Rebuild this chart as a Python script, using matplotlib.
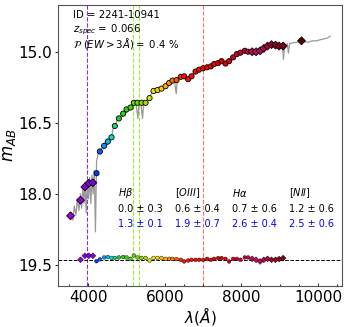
import matplotlib
matplotlib.use("Agg")
import matplotlib.pyplot as plt
from matplotlib.colors import LinearSegmentedColormap, Normalize
from matplotlib.ticker import MultipleLocator

# --- datos ---
# filtros marcados con rombo
diam_wl = [3540, 3800, 3914, 4018, 4123, 8282, 8386, 8491, 8587, 8684, 8789, 8893, 8987, 9092, 9572]
diam_mag = [18.46, 18.13, 17.85, 17.77, 17.76, 14.99, 14.99, 14.97, 14.92, 14.87, 14.84, 14.85, 14.87, 14.87, 14.76]
diam_res = [None, 0.0, -0.085, -0.085, -0.085, -0.02, 0.0, 0.035, 0.0, -0.02, 0.0, 0.0, -0.015, -0.035, None]

# filtros estrechos (circulos)
circ_wl = [4219, 4306, 4418, 4514, 4611, 4697, 4802, 4914, 5003, 5107, 5193, 5290, 5394, 5499,
           5603, 5708, 5812, 5916, 6021, 6115, 6204, 6308, 6420, 6507, 6611, 6700, 6804, 6898,
           7003, 7107, 7204, 7290, 7394, 7483, 7587, 7681, 7786, 7883, 7979, 8091, 8178]
circ_mag = [17.56, 17.10, 16.98, 16.89, 16.80, 16.56, 16.40, 16.30, 16.21, 16.17, 16.07, 16.07, 16.07, 16.07,
            15.97, 15.82, 15.80, 15.77, 15.72, 15.65, 15.60, 15.59, 15.52, 15.51, 15.57, 15.51, 15.41, 15.37,
            15.34, 15.32, 15.30, 15.25, 15.23, 15.19, 15.24, 15.19, 15.11, 15.04, 15.01, 14.97, 14.99]
circ_res = [0.03, -0.01, -0.05, -0.06, -0.04, -0.04, -0.05, -0.06, -0.05, -0.02, -0.09, -0.05, -0.04, -0.04,
            0.015, -0.04, -0.04, -0.04, -0.02, -0.02, -0.02, -0.015, 0.0, 0.035, 0.015, 0.0, 0.0, 0.0,
            0.0, -0.02, 0.0, -0.02, -0.035, -0.035, -0.02, 0.035, -0.02, -0.02, 0.0, -0.05, -0.05]

# espectro
spec_wl = [3560, 3600, 3640, 3680, 3720, 3760, 3800, 3830, 3860, 3890, 3920, 3950, 3980, 4010, 4040,
           4070, 4100, 4130, 4160, 4190, 4220, 4250, 4280, 4320, 4360, 4400, 4450, 4500, 4550, 4600,
           4650, 4700, 4750, 4800, 4850, 4900, 4950, 5000, 5050, 5100, 5150, 5200, 5250, 5300, 5330,
           5380, 5420, 5450, 5500, 5550, 5600, 5650, 5700, 5750, 5800, 5850, 5900, 5950, 6000, 6050,
           6100, 6150, 6200, 6250, 6300, 6330, 6400, 6500, 6600, 6700, 6800, 6900, 7000, 7100, 7200,
           7300, 7400, 7500, 7600, 7700, 7800, 7900, 8000, 8100, 8200, 8300, 8400, 8500, 8600, 8700,
           8800, 8900, 9000, 9080, 9100, 9130, 9200, 9230, 9260, 9350, 9450, 9550, 9650, 9750, 9850,
           9950, 10050, 10150, 10250, 10320]
spec_mag = [18.40, 18.55, 18.25, 18.45, 18.10, 18.35, 18.00, 18.30, 17.85, 18.20, 17.75, 18.40, 17.70, 18.10, 17.65,
            18.20, 17.60, 18.00, 17.50, 18.80, 17.30, 17.20, 17.05, 17.15, 17.00, 17.05, 16.90, 16.95, 16.80, 16.85,
            16.62, 16.58, 16.45, 16.42, 16.35, 16.35, 16.25, 16.28, 16.20, 16.22, 16.12, 16.12, 16.08, 16.40, 16.05,
            16.10, 16.40, 16.08, 16.05, 16.00, 15.95, 15.88, 15.82, 15.80, 15.80, 15.78, 15.76, 15.73, 15.70, 15.68,
            15.64, 15.62, 15.60, 15.58, 15.88, 15.56, 15.52, 15.50, 15.55, 15.50, 15.42, 15.38, 15.34, 15.32, 15.29,
            15.25, 15.22, 15.20, 15.23, 15.18, 15.10, 15.04, 15.00, 14.97, 14.99, 14.99, 14.98, 14.96, 14.91, 14.87,
            14.84, 14.85, 14.87, 14.88, 15.15, 14.86, 14.82, 15.02, 14.82, 14.80, 14.79, 14.77, 14.78, 14.79, 14.76,
            14.76, 14.74, 14.72, 14.70, 14.66]

# lineas de emision
z_spec = 0.066
lines_rest = [3727, 4861, 5007, 6563]
lines_col = ["#8a2be2", "#99ee33", "#99ee33", "#ff7070"]

line_names = [r"$H\beta$", r"$[OIII]$", r"$H\alpha$", r"$[NII]$"]
ew_phot = ["0.0 ± 0.3", "0.6 ± 0.4", "0.7 ± 0.6", "1.2 ± 0.6"]
ew_spec = ["1.3 ± 0.1", "1.9 ± 0.7", "2.6 ± 0.4", "2.5 ± 0.6"]

res_base = 19.39

# mapa de color por longitud de onda
stops = [(3500, "#a000e0"), (4150, "#8000e0"), (4200, "#0033ff"), (4450, "#00aaff"), (4600, "#00e5cc"),
         (4800, "#22cc22"), (5200, "#55dd00"), (5500, "#aadd00"), (5650, "#e8ee00"), (5900, "#ffcc00"),
         (6100, "#ff9900"), (6300, "#ff5500"), (6500, "#ff1100"), (7500, "#e00000"), (8100, "#c8003c"),
         (8400, "#c01066"), (8800, "#a00030"), (9600, "#550000")]
vmin, vmax = stops[0][0], stops[-1][0]
cmap = LinearSegmentedColormap.from_list(
    "wl", [((w - vmin) / (vmax - vmin), c) for w, c in stops])
norm = Normalize(vmin, vmax)

fig = plt.figure(figsize=(3.49, 3.27), dpi=100)
ax = fig.add_axes([0.167, 0.126, 0.813, 0.859])

ax.plot(spec_wl, spec_mag, color="#999999", lw=0.9, zorder=1)

for w, c in zip(lines_rest, lines_col):
    ax.axvline(w * (1 + z_spec), color=c, ls="--", lw=0.8, zorder=0)

ax.axhline(res_base, color="k", ls="--", lw=0.7, zorder=1)

ax.scatter(circ_wl, circ_mag, c=circ_wl, cmap=cmap, norm=norm, marker="o", s=14,
           edgecolors="k", linewidths=0.6, zorder=3)
ax.scatter(diam_wl, diam_mag, c=diam_wl, cmap=cmap, norm=norm, marker="D", s=16,
           edgecolors="k", linewidths=0.6, zorder=3)

# residuos
rw = [w for w, r in zip(diam_wl, diam_res) if r is not None]
rr = [res_base + r for r in diam_res if r is not None]
ax.scatter(circ_wl, [res_base + r for r in circ_res], c=circ_wl, cmap=cmap, norm=norm,
           marker="o", s=7, edgecolors="k", linewidths=0.3, zorder=3)
ax.scatter(rw, rr, c=rw, cmap=cmap, norm=norm, marker="D", s=9,
           edgecolors="k", linewidths=0.3, zorder=3)

ax.text(0.051, 0.963, "ID = 2241-10941", transform=ax.transAxes, fontsize=7.3, va="center")
ax.text(0.051, 0.913, r"$z_{spec} = $ 0.066", transform=ax.transAxes, fontsize=7.3, va="center")
ax.text(0.051, 0.863, r"$\mathcal{P}\ (EW > 3\AA) = $ 0.4 %", transform=ax.transAxes,
        fontsize=7.3, va="center")

col_x = [0.210, 0.411, 0.612, 0.813]
for x, n, a, b in zip(col_x, line_names, ew_phot, ew_spec):
    ax.text(x, 0.330, n, transform=ax.transAxes, fontsize=7, va="center")
    ax.text(x, 0.273, a, transform=ax.transAxes, fontsize=7, va="center")
    ax.text(x, 0.220, b, transform=ax.transAxes, fontsize=7, va="center", color="blue")

ax.set_xlim(3220, 10630)
ax.set_ylim(19.94, 14.0)
ax.set_yticks([15.0, 16.5, 18.0, 19.5])
ax.set_xticks([4000, 6000, 8000, 10000])
ax.xaxis.set_minor_locator(MultipleLocator(500))
ax.tick_params(axis="both", labelsize=11, length=2.5, width=0.6, pad=2)
ax.tick_params(axis="x", which="both", direction="in", top=False, pad=3)
ax.tick_params(axis="x", which="minor", length=1.5)
for s in ax.spines.values():
    s.set_color("#555555")
    s.set_linewidth(0.8)

ax.set_xlabel(r"$\lambda (\AA)$", fontsize=11, labelpad=0)
ax.set_ylabel(r"$m_{AB}$", fontsize=12, labelpad=0)

fig.savefig("out.png", dpi=100)
